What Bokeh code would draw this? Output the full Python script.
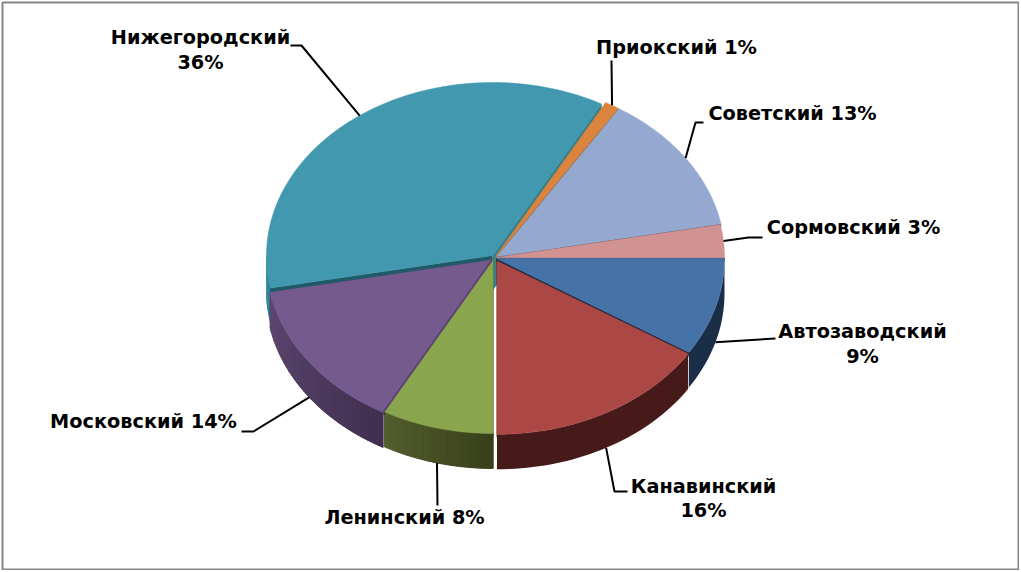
import math
from bokeh.plotting import figure
from bokeh.models import Range1d
from bokeh.core.properties import value
from bokeh.embed import file_html
from bokeh.resources import INLINE

districts = ["Автозаводский", "Канавинский", "Ленинский", "Московский",
             "Нижегородский", "Приокский", "Советский", "Сормовский"]
shares = [9, 16, 8, 14, 36, 1, 13, 3]

# styles / layout per slice
top_colors = ["#4572A7", "#AB4744", "#89A54E", "#755A8E", "#4198AF", "#DB843D", "#95A9D0", "#D19392"]
side_left = ["#1A2E48", "#451A18", "#555F2E", "#5E4873", "#3E93A9", "#B56F33", "#5F7499", "#6D4F52"]
side_right = ["#1A2E48", "#451A18", "#38401B", "#40304F", "#2F7F93", "#B56F33", "#5F7499", "#6D4F52"]
start_face = ["#5A5560", "#451A18", "#38401B", "#5B4570", "#1F5A68", "#B56F33", "#5F7499", "#6D4F52"]
end_face = ["#1A2E48", "#451A18", "#38401B", "#5B4570", "#37808F", "#B56F33", "#5F7499", "#6D4F52"]
centers = [(496, 258), (496.5, 260.5), (492.7, 258), (491.5, 259.5),
           (492, 255), (495.5, 255.5), (496.5, 256), (496, 257)]
radii = [(228, 175), (226.5, 173.3), (226, 175), (226, 174),
         (226, 173), (228, 175), (228, 175), (228, 175)]
face_depth = [3, 3, 3, 3, 35, 3, 3, 3]
DEPTH = 35
paint_order = [4, 5, 6, 7, 0, 1, 3, 2]

leader_tail = {
    0: [(775, 338)], 1: [(614, 491), (627, 491)], 2: [(437, 505)], 3: [(253, 431), (241, 431)],
    4: [(301, 45), (290, 45)], 5: [(611, 60)], 6: [(695, 122), (703, 122)], 7: [(748, 237), (762, 237)],
}
label_lines = {
    0: [(862, 331), (862, 356)], 1: [(703, 486), (703, 510)], 2: [(404, 517)], 3: [(143, 421)],
    4: [(200, 37), (200, 62)], 5: [(676, 47)], 6: [(792, 113)], 7: [(853, 227)],
}

total = sum(shares)
edges = [0.0]
for s in shares:
    edges.append(edges[-1] + 360.0 * s / total)


def pt(i, deg, dy=0.0):
    cx, cy = centers[i]
    rx, ry = radii[i]
    a = math.radians(deg)
    return cx + rx * math.cos(a), cy + ry * math.sin(a) + dy


def mix(c1, c2, t):
    a = [int(c1[k:k + 2], 16) for k in (1, 3, 5)]
    b = [int(c2[k:k + 2], 16) for k in (1, 3, 5)]
    return "#%02X%02X%02X" % tuple(round(x + (y - x) * t) for x, y in zip(a, b))


p = figure(width=1019, height=570, x_range=Range1d(0, 1019), y_range=Range1d(570, 0),
           toolbar_location=None, output_backend="svg", min_border=0,
           background_fill_color="white", border_fill_color="white", outline_line_color=None)
p.axis.visible = False
p.grid.visible = False

p.quad(left=[2], right=[1018], top=[2], bottom=[569], fill_alpha=0, line_color="#868686", line_width=2)

for i in paint_order:
    a0, a1 = edges[i], edges[i + 1]
    # outer wall: only the near half of the rim shows
    lo, hi = max(a0, 0.0), min(a1, 180.0)
    if hi > lo:
        n = max(2, int((hi - lo) / 1.5))
        rim = [lo + (hi - lo) * k / n for k in range(n + 1)]
        wall = [pt(i, d) for d in rim] + [pt(i, d, DEPTH) for d in reversed(rim)]
        base = mix(side_right[i], side_left[i], 0.5)
        p.patch([v[0] for v in wall], [v[1] for v in wall], fill_color=base, line_color=None)
        if side_left[i] != side_right[i]:
            for k in range(n):
                q = [pt(i, rim[k]), pt(i, rim[k + 1]), pt(i, rim[k + 1], DEPTH), pt(i, rim[k], DEPTH)]
                col = mix(side_right[i], side_left[i], (rim[k] - lo) / (hi - lo))
                p.patch([v[0] for v in q], [v[1] for v in q], fill_color=col, line_color=col, line_width=0.8)
    # cut faces
    c = centers[i]
    for deg, col in ((a0, start_face[i]), (a1, end_face[i])):
        e = pt(i, deg)
        d = face_depth[i]
        p.patch([c[0], e[0], e[0], c[0]], [c[1], e[1], e[1] + d, c[1] + d], fill_color=col, line_color=col, line_width=0.5)
    # top surface
    n = max(2, int((a1 - a0) / 1.0))
    arc = [pt(i, a0 + (a1 - a0) * k / n) for k in range(n + 1)]
    p.patch([c[0]] + [v[0] for v in arc], [c[1]] + [v[1] for v in arc],
            fill_color=top_colors[i], line_color=top_colors[i], line_width=0.5)

# the dark seam between the Moscow and Lenin slices
seam = [centers[3], pt(3, edges[3])]
p.line([v[0] for v in seam], [v[1] for v in seam], line_color=start_face[3], line_width=2)

for i in range(len(shares)):
    mid = (edges[i] + edges[i + 1]) / 2
    near = 0 <= mid <= 180
    a = pt(i, mid, DEPTH if near else 0)
    path = [a] + leader_tail[i]
    p.line([v[0] for v in path], [v[1] for v in path], line_color="black", line_width=2)
    spots = label_lines[i]
    pct = f"{shares[i]}%"
    texts = [districts[i], pct] if len(spots) == 2 else [f"{districts[i]} {pct}"]
    p.text([s[0] for s in spots], [s[1] for s in spots], text=texts,
           text_font=value("DejaVu Sans"), text_font_style="bold", text_font_size="19.3px",
           text_align="center", text_baseline="middle", text_color="black")

open("out.html", "w").write(file_html(p, INLINE))
